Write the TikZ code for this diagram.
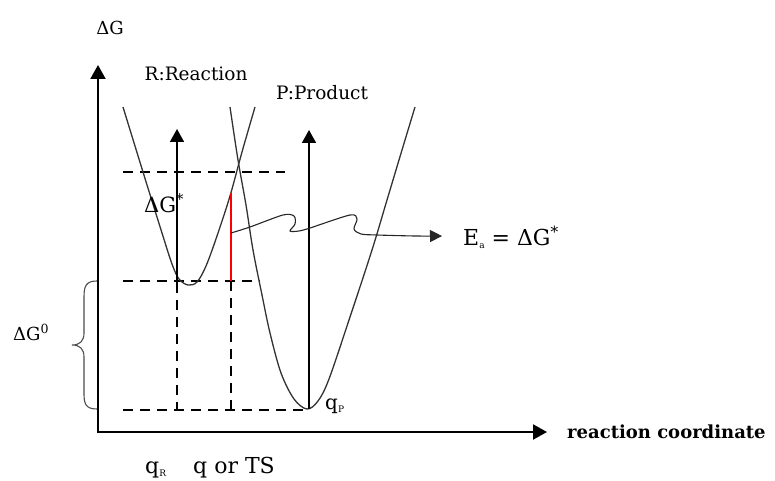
\documentclass[tikz,border=0pt]{standalone}
\usepackage{fontspec}
\setmainfont{DejaVu Serif}
\usetikzlibrary{arrows.meta}
\newcommand{\tinysub}[1]{\raisebox{-3pt}{\fontsize{9}{9}\selectfont #1}}
\begin{document}
\begin{tikzpicture}[x=1pt,y=-1pt,
  axis/.style={line width=2pt, line join=miter, {Triangle[length=14pt,width=15pt]}-{Triangle[length=14pt,width=15pt]}},
  uparrow/.style={line width=1.7pt, -{Triangle[length=13pt,width=14pt]}},
  curve/.style={line width=1.3pt, draw=black!80},
  guide/.style={line width=1.4pt, dash pattern=on 10pt off 7pt},
  lbl/.style={inner sep=0pt, font=\fontsize{18.5}{22}\selectfont},
]
\useasboundingbox (0,0) rectangle (775,481);

% axes
\coordinate (O) at (98,432);
\coordinate (Ytip) at (98,65);
\coordinate (Xtip) at (547,432);
\draw[axis] (Ytip) -- (O) -- (Xtip);

% guide lines
\coordinate (h1a) at (123,172); \coordinate (h1b) at (285,172);
\coordinate (h2a) at (123,281); \coordinate (h2b) at (260,281);
\coordinate (h3a) at (123,410); \coordinate (h3b) at (307,410);
\draw[guide] (h1a) -- (h1b);
\draw[guide] (h2a) -- (h2b);
\draw[guide] (h3a) -- (h3b);
\coordinate (v1a) at (177,283); \coordinate (v1b) at (177,410);
\coordinate (v2a) at (231,281); \coordinate (v2b) at (231,410);
\draw[guide] (v1a) -- (v1b);
\draw[guide] (v2a) -- (v2b);

% R curve
\draw[curve] plot[smooth, tension=0.55] coordinates {(123,107) (143,172) (162,233) (172,264) (179,279) (188,285) (197,282) (206,266) (217,236) (230,196) (242,152) (255,107)};
% P curve
\draw[curve] plot[smooth, tension=0.55] coordinates {(230,107) (238,160) (246,205) (253,250) (262,295) (270,333) (281,373) (294,399) (307,409) (318,401) (329,379) (350,317) (372,250) (387,200) (402,150) (415,107)};

% vertical arrows
\coordinate (Rb) at (177,283); \coordinate (Rt) at (177,129);
\coordinate (Pb) at (309,409); \coordinate (Pt) at (309,130);
\draw[uparrow] (Rb) -- (Rt);
\draw[uparrow] (Pb) -- (Pt);

% red activation segment
\coordinate (ra) at (231,193); \coordinate (rb) at (231,281);
\draw[red, line width=1.5pt] (ra) -- (rb);

% wavy arrow
\draw[line width=1.1pt, draw=black!85, -{Triangle[length=12pt,width=12pt]}] plot[smooth, tension=0.5] coordinates {(231,233) (250,227) (283,215) (294,216) (295,224) (290,231) (299,231) (310,228) (350,215) (357,219) (354,229) (361,234) (377,235) (415,236) (442,236)};

% brace
\draw[line width=1.1pt, draw=black!70] (97,281) .. controls (86,281) and (84,286) .. (84,297) -- (84,333) .. controls (84,341) and (80,345) .. (72,345) .. controls (80,345) and (84,349) .. (84,357) -- (84,394) .. controls (84,404) and (86,409) .. (97,409);

% labels
\node[lbl, font=\fontsize{18}{22}\selectfont] (dG) at (110,28) {ΔG};
\node[lbl] (lr) at (196,74) {R:Reaction};
\node[lbl] (lp) at (322,93) {P:Product};
\node[lbl, font=\fontsize{21}{24}\selectfont, anchor=base west] (dGs) at (144,212) {ΔG\textsuperscript{*}};
\node[lbl, font=\fontsize{18}{22}\selectfont, anchor=base west] (dG0) at (13,340) {ΔG\textsuperscript{0}};
\node[lbl, font=\fontsize{22}{26}\selectfont, anchor=base west] (ea) at (463,245) {E\tinysub{a} = ΔG\textsuperscript{*}};
\node[lbl, font=\fontsize{20}{24}\selectfont, anchor=base west] (qp) at (325,409) {q\tinysub{P}};
\node[lbl, font=\fontsize{22}{26}\selectfont, anchor=base west] (qr) at (145,473) {q\tinysub{R}};
\node[lbl, font=\fontsize{22}{26}\selectfont, anchor=base west] (qts) at (193,473) {q or TS};
\node[lbl, font=\fontsize{18}{22}\selectfont\bfseries, anchor=base west] (rc) at (567,438) {reaction coordinate};
\end{tikzpicture}
\end{document}
